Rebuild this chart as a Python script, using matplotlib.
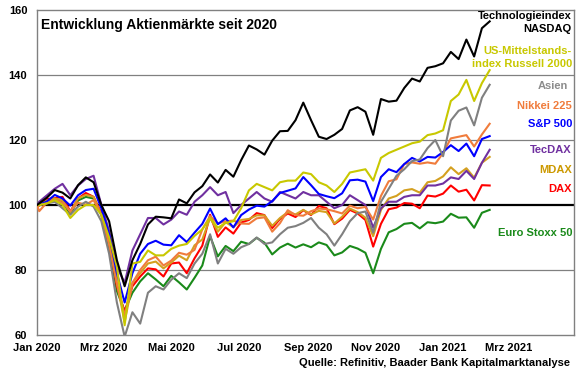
import matplotlib
matplotlib.use('Agg')
import matplotlib.pyplot as plt
import pandas as pd

plt.rcParams['font.family'] = ['Liberation Sans', 'DejaVu Sans']
plt.rcParams['font.weight'] = 'bold'

# Wochenwerte (Freitag), Basis 01.01.2020 = 100
dates = [pd.Timestamp('2020-01-01')] + list(pd.date_range('2020-01-03', '2021-02-12', freq='7D'))

nasdaq = [100, 100.5, 102.3, 104.6, 103.8, 102.0, 106.1, 108.5, 107, 100, 95, 83, 75, 83, 88,
          94, 96.4, 96.2, 95.9, 101.7, 100.5, 103.9, 105.8, 109.4, 106.9, 110.8, 108.7, 113.8, 118.3,
          117.1, 115.5, 119.8, 122.7, 122.8, 126.1, 131.5, 126.1, 121.0, 120.3, 121.6, 123.4, 129.1, 130.1,
          128.7, 121.6, 132.6, 131.8, 132.1, 136.0, 138.9, 138.0, 142.2, 142.7, 143.6, 147.1, 144.9, 150.9,
          145.7, 154.4, 156.5]
russell = [100, 100, 100.5, 101.5, 100, 96, 98.5, 100, 100, 97, 90, 81, 63, 82, 82.5,
           86, 84.5, 84.5, 86.5, 87.5, 88, 90.5, 92.5, 96, 93, 94.5, 95, 99, 104.5,
           106.5, 105.5, 104.5, 107, 107.5, 107.5, 110, 109.5, 107, 106, 104, 106.5, 110, 110.5,
           111, 107.5, 114.5, 116, 117, 118, 119, 119.5, 121.5, 122, 123, 132, 134, 138.5,
           132, 137.5, 141.5]
asien = [100, 100, 100.5, 101, 99, 97, 99.5, 101, 99.5, 95, 85, 70, 59.5, 67, 63.5,
         73, 75, 74, 77, 79, 77.5, 82, 85, 91, 82, 86.5, 85, 87, 88,
         90, 88, 88.5, 91, 93, 93.5, 94.5, 96, 93, 91, 87.5, 91, 95, 97.5,
         98, 91.5, 101, 105, 109, 111, 113.5, 114, 117.5, 120, 115, 126, 129, 130,
         124.5, 133, 137]
nikkei = [100, 98.1, 100.8, 101.6, 100.7, 98.1, 100.7, 100.1, 101.5, 97, 88, 76, 66, 76, 80,
          83, 84.1, 81.4, 82.9, 85.3, 84.7, 86.2, 92.5, 96.6, 94.3, 95.0, 95.2, 94.3, 94.2,
          95.9, 96.2, 91.8, 94.4, 98.4, 96.9, 96.7, 98.1, 98.9, 98.7, 98.1, 97.4, 99.8, 99.0,
          99.4, 95.5, 102.8, 107.3, 107.9, 112.6, 113.1, 112.7, 113.1, 112.7, 116.0, 120.5, 121.0, 121.5,
          118.0, 121.7, 125.0]
sp500 = [100, 100.1, 101.1, 103.1, 102.0, 99.8, 103.0, 104.6, 105, 99, 91, 79, 70, 79, 85,
         88, 89.0, 87.8, 87.6, 90.7, 88.6, 91.5, 94.2, 98.9, 94.1, 95.9, 93.1, 96.9, 98.6,
         99.8, 99.5, 101.2, 103.7, 104.4, 105.1, 108.6, 106.1, 103.4, 102.7, 102.1, 103.6, 107.6, 107.8,
         107.2, 101.2, 108.6, 111.0, 110.1, 112.6, 114.5, 113.4, 114.8, 114.6, 116.3, 118.4, 116.6, 118.9,
         115.0, 120.3, 121.2]
tecdax = [100, 101, 103, 105, 106.5, 103, 106, 108, 109, 100, 92, 81, 76, 86, 91,
          96, 96, 94, 95.5, 98, 97, 101, 103, 105.5, 103, 104, 97.5, 100, 102,
          104, 102, 101, 104, 103, 102, 104, 103, 103, 101, 99, 100, 103, 101.5,
          100, 93, 99, 101, 101, 102.5, 103, 103, 106, 106, 106.6, 108.5, 108, 110.5,
          108, 113, 117]
mdax = [100, 99.8, 101.4, 102.0, 101.4, 97.8, 102.0, 103.1, 102.5, 97, 88, 76, 64, 76, 79,
        82, 82.6, 80.5, 82.3, 84.4, 83.0, 87.6, 89.4, 96.0, 91.8, 94.7, 93.2, 95.4, 95.7,
        96.8, 96.8, 93.6, 96.0, 97.8, 97.1, 98.5, 97.1, 98.2, 97.8, 94.3, 96.4, 98.9, 97.8,
        96.1, 90.4, 98.5, 102.0, 102.8, 104.5, 104.9, 103.8, 107.0, 107.4, 108.8, 111.6, 109.5, 111.3,
        108.4, 113.0, 114.8]
dax = [100, 99.8, 101.8, 102.1, 102.5, 98.0, 102.0, 103.7, 102.5, 97.5, 88, 75, 67, 75, 78,
       80.5, 80.2, 78.0, 82.0, 82.3, 79.0, 83.6, 87.5, 97.0, 90.2, 93.1, 91.2, 94.6, 95.4,
       97.5, 96.9, 92.9, 95.7, 97.4, 96.3, 98.4, 96.9, 99.7, 99.0, 94.1, 95.8, 98.5, 97.4,
       95.4, 87.2, 94.2, 98.7, 99.2, 100.6, 100.4, 99.0, 102.9, 102.6, 103.5, 106.0, 104.1, 104.7,
       101.4, 106.1, 106.0]
stoxx = [100, 100.8, 101.3, 101.7, 100.9, 97.2, 101.4, 102.5, 102, 97, 87, 73.5, 67.5, 73, 76.5,
         79, 77.1, 75.0, 78.2, 76.2, 74.0, 77.6, 81.4, 90.4, 84.2, 87.4, 85.8, 88.7, 88.0,
         89.9, 88.4, 84.8, 86.9, 88.1, 86.9, 87.9, 87.0, 88.5, 87.7, 84.5, 85.4, 87.4, 86.6,
         85.3, 79.0, 86.5, 91.6, 92.6, 94.2, 94.5, 92.8, 94.7, 94.4, 94.9, 97.3, 96.1, 96.2,
         93.0, 97.6, 98.5]

tick_dates = ['2020-01-01', '2020-03-01', '2020-05-01', '2020-07-01', '2020-09-01',
              '2020-11-01', '2021-01-01', '2021-03-01']
tick_labels = ['Jan 2020', 'Mrz 2020', 'Mai 2020', 'Jul 2020', 'Sep 2020',
               'Nov 2020', 'Jan 2021', 'Mrz 2021']

# Reihenfolge: unten zuerst gezeichnet
series = [
    (stoxx, '#1a8a1a'),
    (dax, '#ff0000'),
    (mdax, '#d4a020'),
    (tecdax, '#7030a0'),
    (nikkei, '#f07c3c'),
    (sp500, '#0000ff'),
    (asien, '#808080'),
    (russell, '#c8c800'),
    (nasdaq, '#000000'),
]

labels = [
    ('Technologieindex', '#000000', 15.7, 572),
    ('NASDAQ', '#000000', 28.7, 572),
    ('US-Mittelstands-', '#c8c800', 51.3, 572),
    ('index Russell 2000', '#c8c800', 63.7, 572),
    ('Asien', '#8c8c8c', 86, 568),
    ('Nikkei 225', '#f07c3c', 106, 572),
    ('S&P 500', '#0000ff', 123.7, 572),
    ('TecDAX', '#7030a0', 150, 572),
    ('MDAX', '#cc9900', 170, 572),
    ('DAX', '#ff0000', 188.5, 572),
    ('Euro Stoxx 50', '#1a8a1a', 232.7, 572),
]

W, H = 580, 375
fig = plt.figure(figsize=(W / 100, H / 100), dpi=100)
ax = fig.add_axes([37 / W, 1 - 335 / H, (574 - 37) / W, (335 - 10) / H])

for ys in [80, 120, 140]:
    ax.axhline(ys, color='#808080', lw=0.9, zorder=1)
ax.axhline(100, color='black', lw=1.6, zorder=2)

for vals, col in series:
    ax.plot(dates, vals, color=col, lw=1.5, zorder=3)

ax.set_ylim(60, 160)
ax.set_yticks([60, 80, 100, 120, 140, 160])
ax.set_xlim(pd.Timestamp('2020-01-01'), pd.Timestamp('2021-04-29'))
ax.set_xticks([pd.Timestamp(d) for d in tick_dates])
ax.set_xticklabels(tick_labels)
ax.tick_params(axis='both', length=0, labelsize=8)
ax.tick_params(axis='x', pad=6)
ax.tick_params(axis='y', pad=7)
for lab in ax.get_xticklabels() + ax.get_yticklabels():
    lab.set_fontweight('bold')
for s in ax.spines.values():
    s.set_color('#808080')
    s.set_linewidth(1)

fig.text(41 / W, 1 - 24.5 / H, 'Entwicklung Aktienmärkte seit 2020', fontsize=10,
         fontweight='bold', va='center', ha='left')
for txt, col, ypx, xpx in labels:
    fig.text(xpx / W, 1 - ypx / H, txt, color=col, fontsize=8, fontweight='bold',
             ha='right', va='center')
fig.text(570 / W, 1 - 363 / H, 'Quelle: Refinitiv, Baader Bank Kapitalmarktanalyse',
         fontsize=8, fontweight='bold', ha='right', va='center')

fig.savefig('out.png', dpi=100, facecolor='white')
